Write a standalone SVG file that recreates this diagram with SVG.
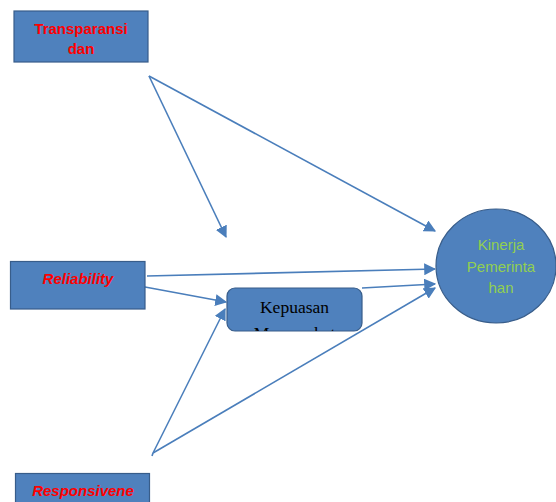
<svg xmlns="http://www.w3.org/2000/svg" width="556" height="502" viewBox="0 0 556 502">
<style>
.box{fill:#4F81BD;stroke:#385D8A;stroke-width:1.2}
.red{font-family:"Liberation Sans",Arial,sans-serif;font-weight:bold;fill:#FF0000;font-size:15px;text-anchor:middle}
.it{font-style:italic}
.green{font-family:"Liberation Sans",Arial,sans-serif;fill:#92D050;font-size:15px;text-anchor:middle}
.serif{font-family:"Liberation Serif","Times New Roman",serif;fill:#000;font-size:17.5px;text-anchor:middle}
.ln{stroke:#4A7EBB;stroke-width:1.6;fill:none;marker-end:url(#ah)}
</style>
<defs>
<marker id="ah" viewBox="0 0 10 10" refX="9" refY="5" markerWidth="7.5" markerHeight="7.5" markerUnits="strokeWidth" orient="auto">
<path d="M0,0 L10,5 L0,10 z" fill="#4A7EBB"/>
</marker>
<clipPath id="kc"><rect x="227" y="288" width="135" height="43" rx="8"/></clipPath>
</defs>
<rect width="556" height="502" fill="#fff"/>
<g id="connectors">
<line class="ln" x1="149" y1="76" x2="226" y2="237"/>
<line class="ln" x1="149" y1="76" x2="435" y2="231"/>
<line class="ln" x1="147" y1="276" x2="435" y2="269"/>
<line class="ln" x1="145" y1="287" x2="226" y2="302"/>
<line class="ln" x1="362" y1="288" x2="435" y2="284"/>
<line class="ln" x1="153" y1="453" x2="225" y2="309"/>
<line class="ln" x1="153" y1="453" x2="435" y2="288"/>
<line stroke="#4A7EBB" stroke-width="1.6" x1="153" y1="453" x2="152" y2="456"/>
</g>
<g id="transparansi">
<rect class="box" x="14" y="11" width="134" height="51"/>
<text class="red" x="81" y="34">Transparansi</text>
<text class="red" x="81" y="54">dan</text>
</g>
<g id="reliability">
<rect class="box" x="10.5" y="261.5" width="134.5" height="47.5"/>
<text class="red it" x="78" y="284">Reliability</text>
</g>
<g id="kepuasan">
<rect class="box" x="227" y="288" width="135" height="43" rx="8"/>
<text class="serif" x="294.5" y="313">Kepuasan</text>
<text class="serif" x="294.5" y="339" clip-path="url(#kc)">Masyarakat</text>
</g>
<g id="kinerja">
<ellipse cx="496" cy="266" rx="60" ry="57" fill="#4F81BD" stroke="#385D8A" stroke-width="1.2"/>
<text class="green" x="501" y="250">Kinerja</text>
<text class="green" x="501" y="272">Pemerinta</text>
<text class="green" x="501" y="293">han</text>
</g>
<g id="responsivene">
<rect class="box" x="15.5" y="473.5" width="134" height="40"/>
<text class="red it" x="83" y="496">Responsivene</text>
</g>
</svg>
